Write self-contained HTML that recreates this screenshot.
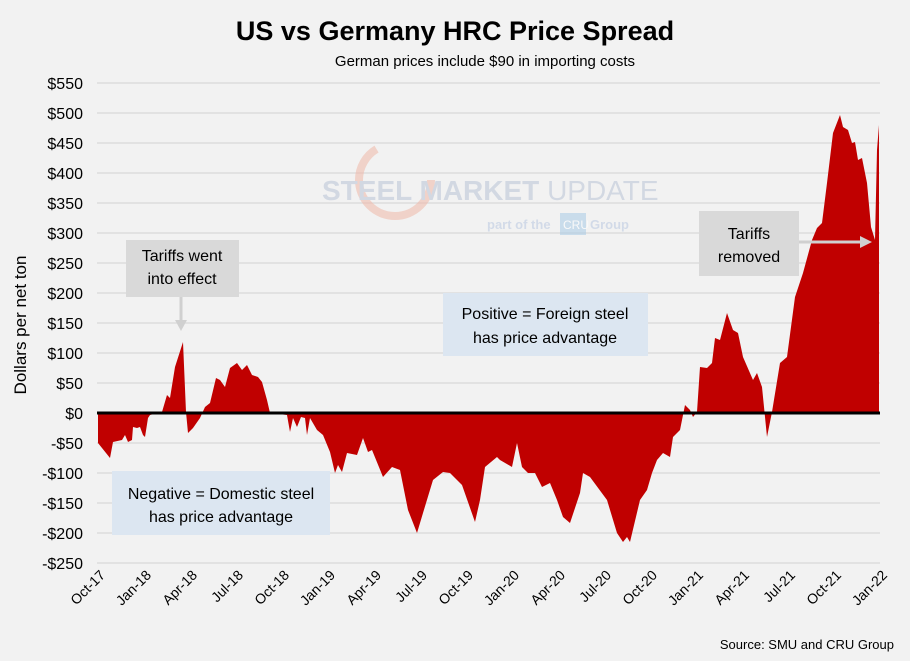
<!DOCTYPE html>
<html><head><meta charset="utf-8"><style>
body{margin:0;background:#f2f2f2;}
svg{display:block;font-family:"Liberation Sans","DejaVu Sans",sans-serif;}
</style></head><body>
<svg width="910" height="661" viewBox="0 0 910 661" xmlns="http://www.w3.org/2000/svg">
<rect width="910" height="661" fill="#f2f2f2"/>
<text x="455" y="40" text-anchor="middle" font-size="27" font-weight="bold" fill="#000">US vs Germany HRC Price Spread</text>
<text x="485" y="66" text-anchor="middle" font-size="15" fill="#000">German prices include $90 in importing costs</text>
<g stroke="#d9d9d9" stroke-width="1.2">
<line x1="97" x2="880" y1="83" y2="83"/><line x1="97" x2="880" y1="113" y2="113"/><line x1="97" x2="880" y1="143" y2="143"/><line x1="97" x2="880" y1="173" y2="173"/><line x1="97" x2="880" y1="203" y2="203"/><line x1="97" x2="880" y1="233" y2="233"/><line x1="97" x2="880" y1="263" y2="263"/><line x1="97" x2="880" y1="293" y2="293"/><line x1="97" x2="880" y1="323" y2="323"/><line x1="97" x2="880" y1="353" y2="353"/><line x1="97" x2="880" y1="383" y2="383"/><line x1="97" x2="880" y1="443" y2="443"/><line x1="97" x2="880" y1="473" y2="473"/><line x1="97" x2="880" y1="503" y2="503"/><line x1="97" x2="880" y1="533" y2="533"/><line x1="97" x2="880" y1="563" y2="563"/>
</g>
<!-- watermark -->
<g opacity="0.55">
<circle cx="395" cy="180" r="36" fill="none" stroke="#f0b8a8" stroke-width="8" stroke-dasharray="150 80"/>
<text x="322" y="200" font-size="28" font-weight="bold" fill="#b9c3d6">STEEL MARKET <tspan font-weight="normal">UPDATE</tspan></text>
<text x="487" y="229" font-size="13" font-weight="bold" fill="#b9c8e0">part of the</text>
<rect x="560" y="213" width="26" height="22" fill="#a8cbe6"/>
<text x="563" y="229" font-size="12" fill="#fff">CRU</text>
<text x="590" y="229" font-size="13" font-weight="bold" fill="#b9c8e0">Group</text>
</g>
<polygon fill="#c00000" points="98,413 98,443 110,458 113,442 122,440 125,435 128,442 132,440 133,427 137,428 140,427 143,435 145,437 148,418 150,415 162,412 167,395 170,398 175,367 183,342 186,412 188,433 193,428 200,418 205,407 210,403 216,378 220,380 225,387 230,368 237,363 242,370 247,365 252,375 258,377 262,382 267,400 270,413 287,415 290,432 293,418 297,427 301,417 305,418 307,435 310,418 317,430 323,435 330,452 335,473 338,465 342,472 347,453 357,455 363,438 368,452 372,450 383,477 392,467 400,470 408,510 417,533 423,513 433,480 443,472 450,473 462,485 475,522 480,500 485,467 497,457 500,460 512,467 517,443 522,467 528,473 535,473 542,487 550,483 557,500 563,517 570,523 580,493 583,473 590,477 607,500 617,533 623,542 627,537 630,542 640,500 647,490 652,473 657,460 663,453 670,457 673,437 680,430 685,405 690,410 693,417 697,412 700,367 707,368 712,363 715,338 720,340 727,313 733,330 738,333 743,357 753,380 757,373 762,387 767,437 772,412 780,363 787,357 795,297 803,273 812,240 817,228 822,223 827,183 833,133 840,115 843,127 848,130 852,143 855,142 858,160 862,158 867,183 871,227 875,240 877,150 879,125 879,413"/>
<line x1="97" x2="880" y1="413" y2="413" stroke="#000" stroke-width="3"/>
<g font-size="16" fill="#000" text-anchor="end">
<text x="83" y="89">$550</text><text x="83" y="119">$500</text><text x="83" y="149">$450</text><text x="83" y="179">$400</text><text x="83" y="209">$350</text><text x="83" y="239">$300</text><text x="83" y="269">$250</text><text x="83" y="299">$200</text><text x="83" y="329">$150</text><text x="83" y="359">$100</text><text x="83" y="389">$50</text><text x="83" y="419">$0</text><text x="83" y="449">-$50</text><text x="83" y="479">-$100</text><text x="83" y="509">-$150</text><text x="83" y="539">-$200</text><text x="83" y="569">-$250</text>
</g>
<text transform="translate(26,325) rotate(-90)" text-anchor="middle" font-size="17" fill="#000">Dollars per net ton</text>
<g font-size="14" fill="#000" text-anchor="end">
<text transform="translate(106,576) rotate(-45)">Oct-17</text>
<text transform="translate(152,576) rotate(-45)">Jan-18</text>
<text transform="translate(198,576) rotate(-45)">Apr-18</text>
<text transform="translate(244,576) rotate(-45)">Jul-18</text>
<text transform="translate(290,576) rotate(-45)">Oct-18</text>
<text transform="translate(336,576) rotate(-45)">Jan-19</text>
<text transform="translate(382,576) rotate(-45)">Apr-19</text>
<text transform="translate(428,576) rotate(-45)">Jul-19</text>
<text transform="translate(474,576) rotate(-45)">Oct-19</text>
<text transform="translate(520,576) rotate(-45)">Jan-20</text>
<text transform="translate(566,576) rotate(-45)">Apr-20</text>
<text transform="translate(612,576) rotate(-45)">Jul-20</text>
<text transform="translate(658,576) rotate(-45)">Oct-20</text>
<text transform="translate(704,576) rotate(-45)">Jan-21</text>
<text transform="translate(750,576) rotate(-45)">Apr-21</text>
<text transform="translate(796,576) rotate(-45)">Jul-21</text>
<text transform="translate(842,576) rotate(-45)">Oct-21</text>
<text transform="translate(888,576) rotate(-45)">Jan-22</text>
</g>
<text x="894" y="649" text-anchor="end" font-size="13" fill="#000">Source: SMU and CRU Group</text>
<!-- annotations -->
<rect x="126" y="240" width="113" height="57" fill="#d9d9d9"/>
<text x="182" y="261" text-anchor="middle" font-size="16">Tariffs went</text>
<text x="182" y="284" text-anchor="middle" font-size="16">into effect</text>
<line x1="181" y1="297" x2="181" y2="322" stroke="#d0d0d0" stroke-width="3"/>
<polygon points="175,320 187,320 181,331" fill="#d0d0d0"/>
<rect x="443" y="293" width="205" height="63" fill="#dce6f1"/>
<text x="545" y="319" text-anchor="middle" font-size="16">Positive = Foreign steel</text>
<text x="545" y="343" text-anchor="middle" font-size="16">has price advantage</text>
<rect x="112" y="471" width="218" height="64" fill="#dce6f1"/>
<text x="221" y="499" text-anchor="middle" font-size="16">Negative = Domestic steel</text>
<text x="221" y="522" text-anchor="middle" font-size="16">has price advantage</text>
<rect x="699" y="211" width="100" height="65" fill="#d9d9d9"/>
<text x="749" y="239" text-anchor="middle" font-size="16">Tariffs</text>
<text x="749" y="262" text-anchor="middle" font-size="16">removed</text>
<line x1="799" y1="242" x2="862" y2="242" stroke="#d0d0d0" stroke-width="3"/>
<polygon points="860,236 860,248 872,242" fill="#d0d0d0"/>
</svg>
</body></html>
